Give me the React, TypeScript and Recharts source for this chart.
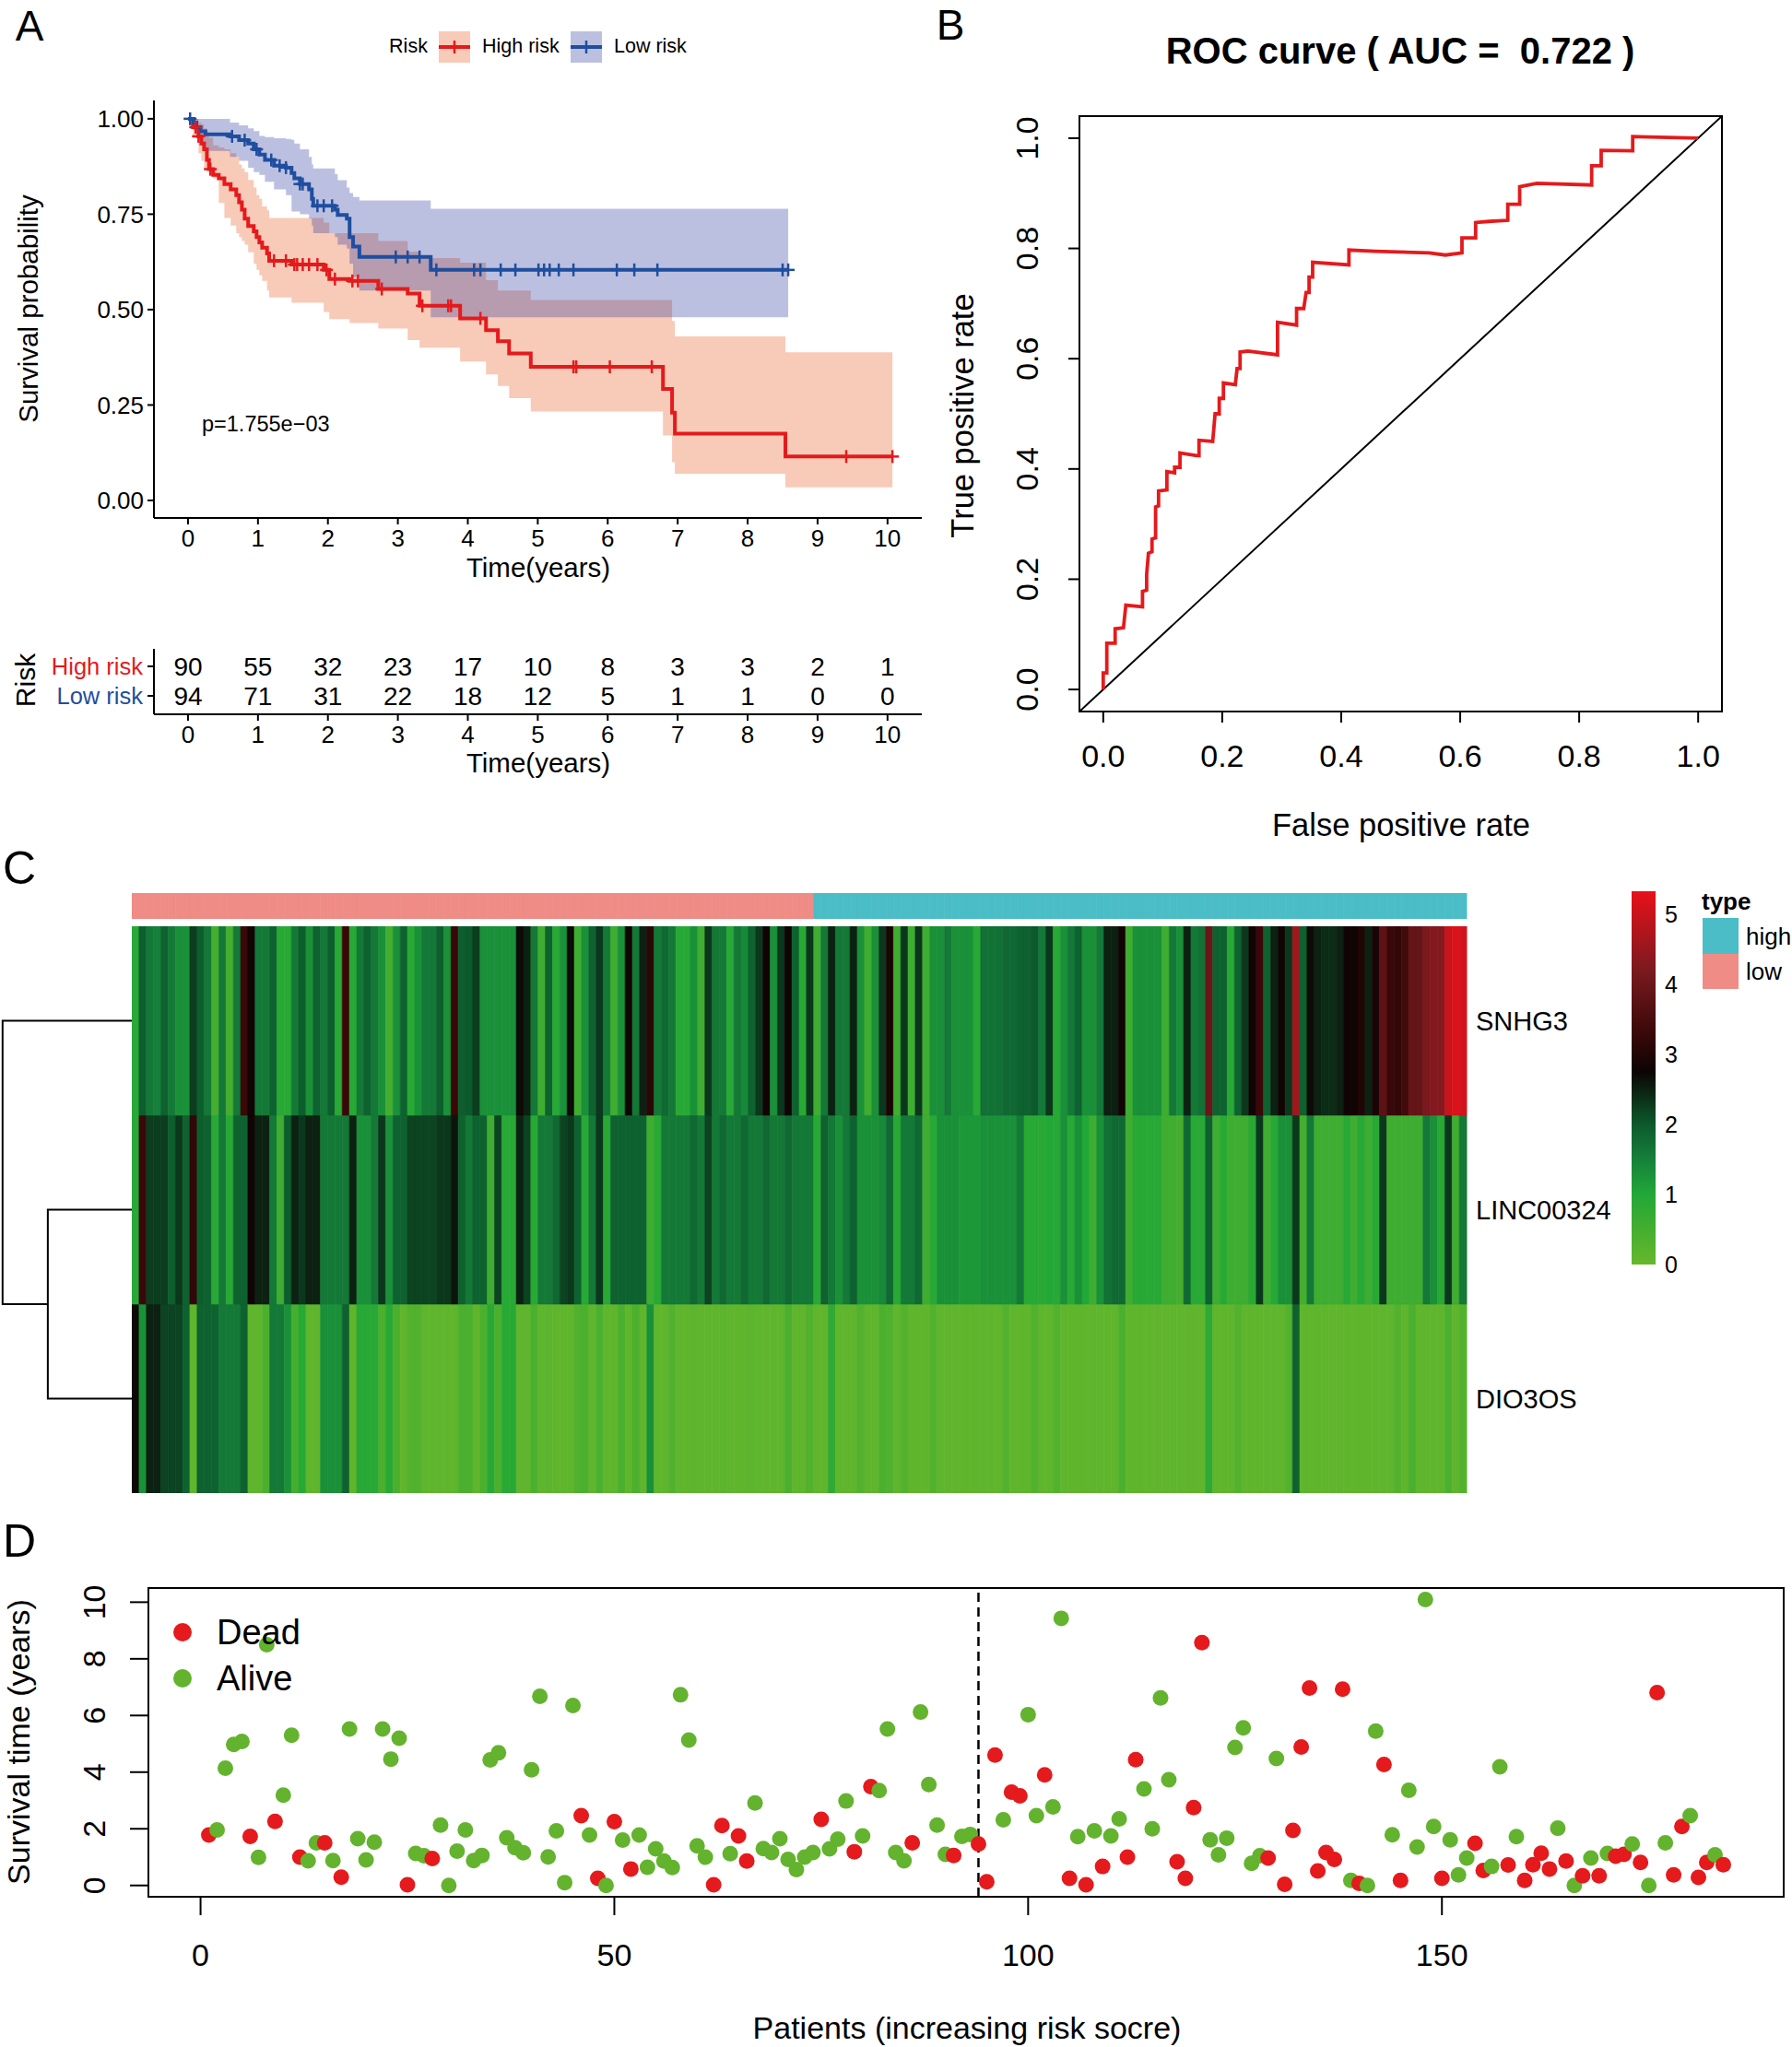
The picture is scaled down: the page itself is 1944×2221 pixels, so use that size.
import React from "react";
import {
  ComposedChart,
  ScatterChart,
  BarChart,
  Line,
  Area,
  Scatter,
  Bar,
  Cell,
  XAxis,
  YAxis,
  ReferenceArea,
  ReferenceLine,
} from "recharts";

const FONT = "'Liberation Sans', Arial, Helvetica, sans-serif";
const RED = "#e41a1c";
const BLUE = "#1f4e9f";
const GREEN = "#63b32e";
const PINK = "#ef8c86";
const CYAN = "#4bbdc6";

// ---------- A: Kaplan-Meier ----------
const YEARS = [0, 1, 2, 3, 4, 5, 6, 7, 8, 9, 10];
const SURV_TICKS = [0, 0.25, 0.5, 0.75, 1];

const HIGH_T = [0, 0.07, 0.15, 0.19, 0.23, 0.27, 0.3, 0.36, 0.44, 0.52, 0.61, 0.69, 0.73, 0.77, 0.81, 0.86, 0.94, 0.98, 1.02, 1.06, 1.13, 1.16, 1.48, 1.94, 2.02, 2.31, 2.72, 3.14, 3.31, 3.89, 4.26, 4.43, 4.59, 4.9, 6.79, 6.92, 6.96, 8.54, 10.07];
const HIGH_S = [1.0, 0.978, 0.954, 0.935, 0.92, 0.892, 0.868, 0.853, 0.844, 0.829, 0.815, 0.8, 0.781, 0.762, 0.738, 0.719, 0.705, 0.69, 0.676, 0.662, 0.647, 0.628, 0.618, 0.604, 0.58, 0.575, 0.554, 0.542, 0.51, 0.477, 0.446, 0.417, 0.385, 0.35, 0.292, 0.23, 0.175, 0.115, 0.115];
const HIGH_LO = [1.0, 0.95, 0.91, 0.89, 0.87, 0.87, 0.85, 0.844, 0.78, 0.74, 0.72, 0.7, 0.69, 0.68, 0.67, 0.65, 0.62, 0.604, 0.59, 0.575, 0.55, 0.532, 0.518, 0.494, 0.475, 0.465, 0.45, 0.42, 0.4, 0.364, 0.33, 0.3, 0.268, 0.233, 0.17, 0.1, 0.07, 0.034, 0.034];
const HIGH_HI = [1.0, 1.0, 0.99, 0.985, 0.975, 0.96, 0.95, 0.93, 0.925, 0.92, 0.91, 0.9, 0.88, 0.87, 0.86, 0.84, 0.82, 0.8, 0.79, 0.77, 0.76, 0.74, 0.74, 0.728, 0.7, 0.7, 0.68, 0.652, 0.635, 0.623, 0.577, 0.55, 0.55, 0.525, 0.525, 0.47, 0.43, 0.388, 0.388];
const HIGH_CENS = [0.11, 0.15, 0.32, 1.23, 1.4, 1.52, 1.56, 1.64, 1.73, 1.85, 1.98, 2.1, 2.35, 2.43, 2.77, 3.35, 3.72, 3.76, 4.18, 5.51, 5.55, 6.03, 6.63, 9.41, 10.07];

const LOW_T = [0, 0.08, 0.12, 0.18, 0.25, 0.6, 0.73, 0.86, 0.94, 1.02, 1.1, 1.23, 1.4, 1.48, 1.52, 1.6, 1.73, 1.77, 1.79, 2.1, 2.14, 2.27, 2.31, 2.36, 2.45, 3.47, 8.58];
const LOW_S = [1.0, 0.99, 0.978, 0.967, 0.959, 0.954, 0.944, 0.935, 0.92, 0.906, 0.892, 0.877, 0.872, 0.858, 0.844, 0.829, 0.815, 0.79, 0.772, 0.762, 0.748, 0.738, 0.69, 0.665, 0.638, 0.604, 0.604];
const LOW_LO = [1.0, 0.97, 0.95, 0.93, 0.916, 0.9, 0.89, 0.872, 0.86, 0.853, 0.835, 0.815, 0.8, 0.757, 0.757, 0.75, 0.738, 0.72, 0.7, 0.69, 0.67, 0.66, 0.62, 0.585, 0.55, 0.48, 0.48];
const LOW_HI = [1.0, 1.0, 1.0, 1.0, 1.0, 0.99, 0.983, 0.975, 0.968, 0.955, 0.952, 0.949, 0.947, 0.945, 0.935, 0.92, 0.9, 0.88, 0.87, 0.855, 0.839, 0.82, 0.805, 0.795, 0.786, 0.764, 0.764];
const LOW_CENS = [0.03, 0.63, 0.81, 0.98, 1.19, 1.31, 1.4, 1.6, 1.64, 1.85, 1.94, 2.06, 2.97, 3.14, 3.31, 3.55, 4.09, 4.18, 4.47, 4.68, 5.01, 5.09, 5.17, 5.3, 5.51, 6.13, 6.38, 6.71, 8.5, 8.58];

const HIGH_AT_RISK = [90, 55, 32, 23, 17, 10, 8, 3, 3, 2, 1];
const LOW_AT_RISK = [94, 71, 31, 22, 18, 12, 5, 1, 1, 0, 0];

// ---------- B: ROC ----------
const RATE_TICKS = [0, 0.2, 0.4, 0.6, 0.8, 1];
const ROC_FPR = [0, 0, 0.006, 0.006, 0.02, 0.02, 0.034, 0.038, 0.066, 0.066, 0.073, 0.073, 0.076, 0.082, 0.082, 0.088, 0.088, 0.093, 0.093, 0.107, 0.107, 0.12, 0.12, 0.129, 0.129, 0.157, 0.161, 0.161, 0.184, 0.188, 0.195, 0.195, 0.202, 0.202, 0.222, 0.225, 0.23, 0.23, 0.243, 0.293, 0.293, 0.325, 0.325, 0.337, 0.341, 0.346, 0.346, 0.352, 0.352, 0.413, 0.413, 0.457, 0.548, 0.575, 0.603, 0.603, 0.626, 0.626, 0.648, 0.68, 0.68, 0.7, 0.7, 0.729, 0.821, 0.821, 0.837, 0.837, 0.89, 0.89, 1.0];
const ROC_TPR = [0, 0.03, 0.03, 0.084, 0.084, 0.11, 0.112, 0.153, 0.15, 0.178, 0.18, 0.209, 0.247, 0.25, 0.273, 0.275, 0.331, 0.333, 0.36, 0.362, 0.395, 0.393, 0.403, 0.403, 0.429, 0.424, 0.424, 0.452, 0.45, 0.5, 0.5, 0.528, 0.528, 0.556, 0.553, 0.582, 0.582, 0.612, 0.614, 0.607, 0.666, 0.661, 0.691, 0.691, 0.72, 0.72, 0.748, 0.748, 0.775, 0.77, 0.797, 0.795, 0.792, 0.788, 0.792, 0.819, 0.819, 0.847, 0.849, 0.851, 0.88, 0.88, 0.912, 0.918, 0.915, 0.95, 0.95, 0.978, 0.977, 1.003, 1.0];
const CHANCE = [-0.04, 1.04];

// ---------- C: heatmap ----------
const GENES_BOTTOM_UP = ["DIO3OS", "LINC00324", "SNHG3"];
const LOW_COUNT = 94;
const SNHG3 = [
  0.9, 1.95, 1.6, 1.5, 1.9, 1.6, 1.3, 1.3, 2.25, 1.95,
  1.6, 0.5, 1.6, 0.5, 1.6, 3.3, 2.8, 1.6, 1.6, 1.9,
  0.9, 0.9, 1.6, 1.95, 1.3, 1.9, 1.6, 1.95, 0.9, 3.3,
  0.9, 1.6, 1.9, 1.6, 1.3, 0.5, 1.3, 1.9, 0.9, 1.3,
  1.6, 1.6, 1.95, 1.3, 3.3, 1.95, 2.0, 2.25, 1.3, 1.3,
  1.3, 1.3, 1.3, 2.7, 2.5, 1.6, 0.6, 1.9, 0.9, 1.3,
  2.7, 0.6, 1.3, 1.9, 2.3, 1.6, 0.6, 1.3, 2.8, 1.6,
  2.5, 3.1, 1.6, 1.8, 1.6, 0.9, 0.9, 1.3, 0.6, 2.3,
  1.6, 1.6, 0.9, 1.6, 1.4, 1.9, 2.3, 2.8, 1.3, 2.3,
  2.8, 1.9, 0.9, 2.3, 0.6, 1.6, 2.5, 1.6, 1.6, 2.5,
  1.3, 0.6, 1.3, 2.3, 2.9, 0.6, 2.3, 0.6, 2.3, 0.6,
  1.3, 1.3, 1.6, 1.3, 1.3, 1.3, 0.9, 1.7, 1.7, 1.7,
  1.8, 1.8, 1.9, 1.9, 2.0, 1.6, 2.3, 0.9, 1.3, 1.6,
  1.9, 1.3, 1.3, 1.6, 2.5, 2.5, 2.8, 0.6, 1.3, 1.3,
  1.3, 1.3, 0.6, 1.6, 1.3, 2.5, 1.6, 1.7, 4.0, 1.9,
  1.9, 0.9, 1.9, 2.3, 2.8, 3.3, 1.9, 2.5, 2.8, 2.3,
  4.6, 1.9, 2.7, 2.5, 2.4, 2.4, 2.5, 2.8, 2.8, 3.0,
  2.5, 2.9, 3.8, 3.3, 3.2, 3.4, 3.9, 3.9, 4.2, 4.3,
  4.3, 5.0, 5.2, 5.1,
];
const LINC00324 = [
  0.9, 3.3, 2.25, 2.25, 2.25, 1.95, 2.3, 1.9, 3.2, 1.95,
  1.9, 0.9, 1.6, 0.9, 1.9, 1.9, 2.8, 2.5, 2.5, 1.6,
  0.6, 1.95, 2.5, 2.3, 2.5, 2.5, 1.6, 1.6, 1.6, 1.6,
  2.5, 1.3, 1.3, 1.6, 2.3, 1.3, 1.9, 1.9, 2.2, 2.2,
  2.2, 2.2, 2.3, 2.3, 2.6, 1.9, 1.6, 1.9, 1.9, 0.6,
  2.2, 0.9, 0.9, 2.5, 2.2, 0.9, 1.6, 1.6, 1.8, 2.2,
  2.3, 1.9, 0.9, 1.6, 2.3, 0.9, 1.9, 1.9, 1.9, 1.9,
  1.9, 0.6, 0.9, 1.6, 1.6, 1.6, 1.6, 1.8, 1.6, 2.2,
  1.6, 1.8, 1.6, 1.6, 1.8, 1.6, 1.6, 1.8, 1.6, 1.6,
  1.8, 1.6, 1.6, 1.6, 0.9, 1.9, 1.6, 1.3, 1.6, 1.9,
  1.3, 1.3, 1.3, 1.4, 1.8, 0.9, 1.6, 1.6, 1.8, 0.6,
  0.9, 1.3, 1.3, 1.3, 1.2, 1.2, 1.2, 1.3, 1.3, 1.3,
  1.3, 1.3, 1.6, 0.9, 0.9, 0.9, 1.0, 0.9, 1.3, 0.9,
  1.3, 1.0, 0.6, 1.3, 1.7, 1.8, 1.8, 0.6, 0.9, 0.9,
  0.9, 0.9, 0.6, 0.6, 0.5, 1.8, 0.9, 0.9, 1.9, 0.6,
  0.9, 0.6, 0.6, 0.6, 0.9, 2.3, 0.6, 0.9, 1.3, 1.3,
  2.3, 0.5, 1.6, 0.6, 0.6, 0.6, 0.6, 0.9, 0.6, 0.9,
  0.6, 0.9, 2.3, 0.6, 0.6, 0.6, 0.6, 0.6, 1.6, 1.3,
  0.9, 2.3, 0.6, 1.6,
];
const DIO3OS = [
  2.7, 1.3, 2.5, 2.5, 2.2, 2.2, 2.2, 1.9, 0.1, 1.9,
  1.9, 1.9, 1.6, 1.6, 1.6, 1.9, 0.1, 0.1, 0.4, 1.6,
  1.6, 1.3, 0.5, 0.9, 0.1, 0.1, 1.3, 1.3, 1.3, 1.9,
  0.1, 0.9, 0.9, 0.9, 0.4, 0.9, 0.4, 0.1, 0.3, 0.3,
  0.1, 0.1, 0.1, 0.1, 0.1, 0.4, 0.4, 0.1, 0.4, 0.9,
  0.4, 0.9, 0.9, 0.1, 0.1, 0.4, 0.1, 0.15, 0.1, 0.1,
  0.1, 0.35, 0.4, 0.1, 0.4, 0.1, 0.1, 0.4, 0.1, 0.4,
  0.1, 1.3, 0.1, 0.1, 0.3, 0.1, 0.1, 0.15, 0.1, 0.1,
  0.1, 0.15, 0.1, 0.1, 0.1, 0.15, 0.1, 0.1, 0.1, 0.1,
  0.4, 0.1, 0.1, 0.3, 0.1, 0.1, 0.8, 0.1, 0.1, 0.1,
  0.3, 0.1, 0.1, 0.4, 0.35, 0.1, 0.3, 0.1, 0.1, 0.1,
  0.3, 0.1, 0.1, 0.1, 0.1, 0.1, 0.1, 0.1, 0.1, 0.1,
  0.3, 0.1, 0.1, 0.1, 0.3, 0.1, 0.1, 0.3, 0.1, 0.1,
  0.1, 0.1, 0.1, 0.1, 0.1, 0.1, 0.4, 0.1, 0.1, 0.1,
  0.1, 0.1, 0.1, 0.1, 0.1, 0.1, 0.1, 0.1, 0.8, 0.1,
  0.1, 0.1, 0.3, 0.1, 0.1, 0.1, 0.1, 0.1, 0.1, 0.3,
  1.9, 0.1, 0.1, 0.1, 0.1, 0.1, 0.1, 0.1, 0.1, 0.1,
  0.1, 0.1, 0.1, 0.1, 0.3, 0.1, 0.4, 0.1, 0.1, 0.1,
  0.1, 0.4, 0.1, 0.3,
];
const LEGEND_MAX = 5.33;
const LEGEND_TICKS = [0, 1, 2, 3, 4, 5];
const COLOR_STOPS: [number, string][] = [
  [0, "#66b82d"],
  [0.5, "#45ae2f"],
  [1.0, "#21a837"],
  [1.5, "#16803a"],
  [2.0, "#0c5a2c"],
  [2.4, "#0b2c16"],
  [2.75, "#0d0404"],
  [3.3, "#3a0808"],
  [4.2, "#7a1a1f"],
  [5.33, "#e8111a"],
];
// dendrogram merge heights: (LINC00324, DIO3OS) then root with SNHG3
const DENDRO_MERGE = [0.65, 1.0];

// ---------- D: survival status ----------
const SURV_TIME = [
  1.78, 1.96, 4.14, 4.98, 5.08, 1.73, 0.99, 8.5, 2.26, 3.19,
  5.3, 1.0, 0.87, 1.5, 1.5, 0.88, 0.29, 5.52, 1.65, 0.9,
  1.53, 5.52, 4.46, 5.2, 0.02, 1.13, 1.05, 0.95, 2.13, 0.0,
  1.21, 1.96, 0.88, 1.06, 4.43, 4.68, 1.68, 1.33, 1.15, 4.08,
  6.68, 1.01, 1.93, 0.1, 6.35, 2.46, 1.78, 0.25, 0.0, 2.25,
  1.6, 0.58, 1.78, 0.64, 1.29, 0.86, 0.63, 6.73, 5.13, 1.4,
  1.0, 0.02, 2.11, 1.12, 1.75, 0.86, 2.91, 1.3, 1.16, 1.65,
  0.92, 0.56, 1.0, 1.16, 2.33, 1.29, 1.63, 2.98, 1.19, 1.75,
  3.49, 3.35, 5.52, 1.16, 0.87, 1.5, 6.12, 3.56, 2.13, 1.1,
  1.06, 1.73, 1.8, 1.46, 0.13, 4.6, 2.32, 3.29, 3.16, 6.03,
  2.46, 3.9, 2.77, 9.43, 0.25, 1.72, 0.02, 1.93, 0.67, 1.75,
  2.35, 1.0, 4.44, 3.41, 2.0, 6.62, 3.73, 0.84, 0.25, 2.75,
  8.57, 1.61, 1.08, 1.67, 4.87, 5.56, 0.78, 1.05, 0.97, 4.48,
  0.04, 1.94, 4.89, 6.97, 0.51, 1.16, 0.92, 6.93, 0.18, 0.07,
  0.0, 5.45, 4.27, 1.79, 0.18, 3.36, 1.36, 10.09, 2.08, 0.25,
  1.61, 0.37, 0.97, 1.49, 0.53, 0.67, 4.19, 0.72, 1.72, 0.18,
  0.73, 1.14, 0.58, 2.02, 0.86, 0.0, 0.34, 0.97, 0.34, 1.13,
  1.03, 1.1, 1.46, 0.81, 0.0, 6.81, 1.5, 0.37, 2.08, 2.46,
  0.28, 0.81, 1.08, 0.73,
];
const STATUS = [
  1, 0, 0, 0, 0, 1, 0, 0, 1, 0,
  0, 1, 0, 0, 1, 0, 1, 0, 0, 0,
  0, 0, 0, 0, 1, 0, 0, 1, 0, 0,
  0, 0, 0, 0, 0, 0, 0, 0, 0, 0,
  0, 0, 0, 0, 0, 1, 0, 1, 0, 1,
  0, 1, 0, 0, 0, 0, 0, 0, 0, 0,
  0, 1, 1, 0, 1, 1, 0, 0, 0, 0,
  0, 0, 0, 0, 1, 0, 0, 0, 1, 0,
  1, 0, 0, 0, 0, 1, 0, 0, 0, 0,
  1, 0, 0, 1, 1, 1, 0, 1, 1, 0,
  0, 1, 0, 0, 1, 0, 1, 0, 1, 0,
  0, 1, 1, 0, 0, 0, 0, 1, 1, 1,
  1, 0, 0, 0, 0, 0, 0, 0, 1, 0,
  1, 1, 1, 1, 1, 1, 1, 1, 0, 1,
  0, 0, 1, 0, 1, 0, 0, 0, 0, 1,
  0, 0, 0, 1, 1, 0, 0, 1, 0, 1,
  1, 1, 1, 0, 1, 0, 1, 0, 1, 0,
  1, 1, 0, 1, 0, 1, 0, 1, 1, 0,
  1, 1, 0, 1,
];
const PATIENT_TICKS = [0, 50, 100, 150];
const TIME_TICKS = [0, 2, 4, 6, 8, 10];

// ---------- helpers ----------
function hexToRgb(h: string) {
  const n = parseInt(h.slice(1), 16);
  return [(n >> 16) & 255, (n >> 8) & 255, n & 255];
}
function heatColor(v: number) {
  for (let i = 1; i < COLOR_STOPS.length; i++) {
    const [v0, c0] = COLOR_STOPS[i - 1];
    const [v1, c1] = COLOR_STOPS[i];
    if (v <= v1) {
      const f = Math.max(0, Math.min(1, (v - v0) / (v1 - v0)));
      const a = hexToRgb(c0);
      const b = hexToRgb(c1);
      const c = a.map((x, k) => Math.round(x + (b[k] - x) * f));
      return `rgb(${c[0]},${c[1]},${c[2]})`;
    }
  }
  return COLOR_STOPS[COLOR_STOPS.length - 1][1];
}
function stepValue(ts: number[], ss: number[], t: number) {
  let s = ss[0];
  for (let i = 0; i < ts.length; i++) if (ts[i] <= t) s = ss[i];
  return s;
}

function Txt({ x, y, size, children, anchor = "middle", rotate = 0, weight = 400, color = "#000" }: any) {
  const tx = anchor === "start" ? "0%" : anchor === "end" ? "-100%" : "-50%";
  return (
    <div
      style={{
        position: "absolute",
        left: x,
        top: y,
        fontSize: size,
        fontWeight: weight,
        color,
        lineHeight: 1,
        whiteSpace: "nowrap",
        transform: `translate(${tx}, -50%)${rotate ? ` rotate(${rotate}deg)` : ""}`,
      }}
    >
      {children}
    </div>
  );
}

const rotTick = (size: number, fmt: (v: number) => string) => (p: any) => (
  <text
    x={p.x}
    y={p.y}
    transform={`rotate(-90 ${p.x} ${p.y})`}
    textAnchor="middle"
    dominantBaseline="central"
    fontSize={size}
    fill="#000"
  >
    {fmt(p.payload.value)}
  </text>
);

const censorShape = (color: string) => (p: any) => (
  <g>
    <line x1={p.cx} x2={p.cx} y1={p.cy - 7} y2={p.cy + 7} stroke={color} strokeWidth={2.5} />
    <line x1={p.cx - 7} x2={p.cx + 7} y1={p.cy} y2={p.cy} stroke={color} strokeWidth={2.5} />
  </g>
);

const blackLine = { stroke: "#000", strokeWidth: 2 };

// ---------- panels ----------
function PanelA() {
  const highLine = HIGH_T.map((t, i) => ({ t, s: HIGH_S[i] }));
  const lowLine = LOW_T.map((t, i) => ({ t, s: LOW_S[i] }));
  const highBand = HIGH_T.map((t, i) => ({ t, band: [HIGH_LO[i], HIGH_HI[i]] }));
  const lowBand = LOW_T.map((t, i) => ({ t, band: [LOW_LO[i], LOW_HI[i]] }));
  const highCens = HIGH_CENS.map((t) => ({ t, s: stepValue(HIGH_T, HIGH_S, t) }));
  const lowCens = LOW_CENS.map((t) => ({ t, s: stepValue(LOW_T, LOW_S, t) }));
  const highRisk = YEARS.map((t, i) => ({ t, row: 2, n: HIGH_AT_RISK[i] }));
  const lowRisk = YEARS.map((t, i) => ({ t, row: 1, n: LOW_AT_RISK[i] }));

  const countShape = (p: any) => (
    <text x={p.cx} y={p.cy} dy="0.355em" textAnchor="middle" fontSize={28} fill="#000">
      {p.payload.n}
    </text>
  );
  const riskTick = (p: any) => {
    const high = p.payload.value === 2;
    return (
      <text x={p.x} y={p.y} dy="0.355em" textAnchor="end" fontSize={25.5} fill={high ? RED : BLUE}>
        {high ? "High risk" : "Low risk"}
      </text>
    );
  };

  return (
    <>
      <Txt x={32} y={28} size={46}>A</Txt>
      <Txt x={443} y={51} size={21.5}>Risk</Txt>
      <svg style={{ position: "absolute", left: 476, top: 34 }} width={34} height={34}>
        <rect x={0} y={0} width={34} height={34} fill="#f8cab8" />
        <line x1={0} x2={34} y1={17} y2={17} stroke={RED} strokeWidth={4} />
        <line x1={17} x2={17} y1={10} y2={24} stroke={RED} strokeWidth={2.5} />
      </svg>
      <Txt x={523} y={51} size={21.5} anchor="start">High risk</Txt>
      <svg style={{ position: "absolute", left: 619, top: 34 }} width={34} height={34}>
        <rect x={0} y={0} width={34} height={34} fill="#bcc0e0" />
        <line x1={0} x2={34} y1={17} y2={17} stroke={BLUE} strokeWidth={4} />
        <line x1={17} x2={17} y1={10} y2={24} stroke={BLUE} strokeWidth={2.5} />
      </svg>
      <Txt x={666} y={51} size={21.5} anchor="start">Low risk</Txt>

      <div style={{ position: "absolute", left: 0, top: 100 }}>
        <ComposedChart width={1010} height={560} margin={{ top: 9, right: 10, bottom: 0, left: 0 }}>
          <XAxis
            type="number"
            dataKey="t"
            domain={[-0.487, 10.49]}
            ticks={YEARS}
            interval={0}
            allowDataOverflow
            height={98}
            tickSize={7}
            tickMargin={6}
            axisLine={blackLine}
            tickLine={blackLine}
            tick={{ fontSize: 26, fill: "#000" }}
          />
          <YAxis
            type="number"
            domain={[-0.046, 1.048]}
            ticks={SURV_TICKS}
            interval={0}
            allowDataOverflow
            tickFormatter={(v: number) => v.toFixed(2)}
            width={167}
            tickSize={7}
            tickMargin={4}
            axisLine={blackLine}
            tickLine={blackLine}
            tick={{ fontSize: 26, fill: "#000" }}
          />
          <Area data={highBand} dataKey="band" type="stepAfter" stroke="none" fill="#ef8a62" fillOpacity={0.45} isAnimationActive={false} />
          <Area data={lowBand} dataKey="band" type="stepAfter" stroke="none" fill="#202d98" fillOpacity={0.3} isAnimationActive={false} />
          <Line data={highLine} dataKey="s" type="stepAfter" stroke={RED} strokeWidth={4} dot={false} activeDot={false} isAnimationActive={false} />
          <Line data={lowLine} dataKey="s" type="stepAfter" stroke={BLUE} strokeWidth={4} dot={false} activeDot={false} isAnimationActive={false} />
          <Scatter data={highCens} dataKey="s" shape={censorShape(RED)} isAnimationActive={false} />
          <Scatter data={lowCens} dataKey="s" shape={censorShape(BLUE)} isAnimationActive={false} />
        </ComposedChart>
      </div>
      <Txt x={31} y={335} size={29.5} rotate={-90}>Survival probability</Txt>
      <Txt x={584} y={616} size={29.5}>Time(years)</Txt>
      <Txt x={219} y={461} size={23.5} anchor="start">p=1.755e−03</Txt>

      <div style={{ position: "absolute", left: 0, top: 695 }}>
        <ScatterChart width={1010} height={150} margin={{ top: 9, right: 10, bottom: 0, left: 0 }}>
          <XAxis
            type="number"
            dataKey="t"
            domain={[-0.487, 10.49]}
            ticks={YEARS}
            interval={0}
            allowDataOverflow
            height={70}
            tickSize={7}
            tickMargin={6}
            axisLine={blackLine}
            tickLine={blackLine}
            tick={{ fontSize: 26, fill: "#000" }}
          />
          <YAxis
            type="number"
            dataKey="row"
            domain={[0.375, 2.594]}
            ticks={[1, 2]}
            interval={0}
            allowDataOverflow
            width={167}
            tickSize={7}
            tickMargin={5}
            axisLine={blackLine}
            tickLine={blackLine}
            tick={riskTick}
          />
          <Scatter data={highRisk} shape={countShape} isAnimationActive={false} />
          <Scatter data={lowRisk} shape={countShape} isAnimationActive={false} />
        </ScatterChart>
      </div>
      <Txt x={28} y={738} size={30} rotate={-90}>Risk</Txt>
      <Txt x={584} y={828} size={29.5}>Time(years)</Txt>
    </>
  );
}

function PanelB() {
  const roc = ROC_FPR.map((f, i) => ({ fpr: f, tpr: ROC_TPR[i] }));
  const chance = CHANCE.map((v) => ({ fpr: v, tpr: v }));
  return (
    <>
      <Txt x={1031} y={27} size={46}>B</Txt>
      <Txt x={1519} y={55} size={40} weight={700}>ROC curve ( AUC =&nbsp; 0.722 )</Txt>
      <div style={{ position: "absolute", left: 1020, top: 100 }}>
        <ComposedChart width={880} height={800} margin={{ top: 26, right: 32, bottom: 0, left: 0 }}>
          <XAxis
            type="number"
            dataKey="fpr"
            domain={[-0.04, 1.04]}
            ticks={RATE_TICKS}
            interval={0}
            allowDataOverflow
            tickFormatter={(v: number) => v.toFixed(1)}
            height={128}
            tickSize={12}
            tickMargin={24}
            axisLine={false}
            tickLine={blackLine}
            tick={{ fontSize: 34, fill: "#000" }}
          />
          <YAxis
            type="number"
            domain={[-0.04, 1.04]}
            ticks={RATE_TICKS}
            interval={0}
            allowDataOverflow
            width={151}
            tickSize={12}
            tickMargin={45}
            axisLine={false}
            tickLine={blackLine}
            tick={rotTick(34, (v) => v.toFixed(1))}
          />
          <ReferenceArea x1={-0.04} x2={1.04} y1={-0.04} y2={1.04} fill="none" stroke="#000" strokeWidth={2} ifOverflow="visible" />
          <Line data={chance} dataKey="tpr" type="linear" stroke="#000" strokeWidth={2} dot={false} activeDot={false} isAnimationActive={false} />
          <Line data={roc} dataKey="tpr" type="linear" stroke={RED} strokeWidth={3.8} dot={false} activeDot={false} isAnimationActive={false} />
        </ComposedChart>
      </div>
      <Txt x={1520} y={895} size={34.5}>False positive rate</Txt>
      <Txt x={1044} y={451} size={34.5} rotate={-90}>True positive rate</Txt>
    </>
  );
}

function PanelC() {
  const rows = SNHG3.map((_, i) => ({
    patient: i + 1,
    type: i < LOW_COUNT ? "low" : "high",
    annot: 1,
    DIO3OS: 1,
    LINC00324: 1,
    SNHG3: 1,
  }));
  const values: Record<string, number[]> = { DIO3OS, LINC00324, SNHG3 };
  const m0 = DENDRO_MERGE[0];
  const m1 = DENDRO_MERGE[1];
  const dendro = [
    [
      { h: 0, pos: 1.5 },
      { h: m0, pos: 1.5 },
      { h: m0, pos: 0.5 },
      { h: 0, pos: 0.5 },
    ],
    [
      { h: 0, pos: 2.5 },
      { h: m1, pos: 2.5 },
      { h: m1, pos: 1.0 },
      { h: m0, pos: 1.0 },
    ],
  ];
  return (
    <>
      <Txt x={21} y={942} size={50}>C</Txt>
      <div style={{ position: "absolute", left: 143, top: 969 }}>
        <BarChart width={1568} height={28} data={rows} margin={{ top: 0, right: 0, bottom: 0, left: 0 }} barCategoryGap={0} barGap={0}>
          <XAxis dataKey="patient" hide />
          <YAxis
            orientation="right"
            type="number"
            domain={[0, 1]}
            ticks={[0.5]}
            tickFormatter={() => "type"}
            width={120}
            tickSize={0}
            tickMargin={10}
            axisLine={false}
            tickLine={false}
            tick={{ fontSize: 26, fontWeight: "bold", fill: "#000" }}
          />
          <Bar dataKey="annot" isAnimationActive={false}>
            {rows.map((r, i) => {
              const c = r.type === "low" ? PINK : CYAN;
              return <Cell key={i} fill={c} stroke={c} strokeWidth={0.6} />;
            })}
          </Bar>
        </BarChart>
      </div>
      <div style={{ position: "absolute", left: 143, top: 1005 }}>
        <BarChart width={1628} height={615} data={rows} margin={{ top: 0, right: 0, bottom: 0, left: 0 }} barCategoryGap={0} barGap={0}>
          <XAxis dataKey="patient" hide />
          <YAxis
            orientation="right"
            type="number"
            domain={[0, 3]}
            ticks={[0.5, 1.5, 2.5]}
            tickFormatter={(v: number) => GENES_BOTTOM_UP[Math.floor(v)]}
            width={180}
            tickSize={0}
            tickMargin={10}
            axisLine={false}
            tickLine={false}
            tick={{ fontSize: 29, fill: "#000" }}
          />
          {GENES_BOTTOM_UP.map((g) => (
            <Bar key={g} dataKey={g} stackId="heat" isAnimationActive={false}>
              {values[g].map((v, i) => {
                const c = heatColor(v);
                return <Cell key={i} fill={c} stroke={c} strokeWidth={0.6} />;
              })}
            </Bar>
          ))}
        </BarChart>
      </div>
      <div style={{ position: "absolute", left: 0, top: 1005 }}>
        <ScatterChart width={143} height={615} margin={{ top: 0, right: 0, bottom: 0, left: 0 }}>
          <XAxis type="number" dataKey="h" domain={[0, 1.02]} reversed hide allowDataOverflow />
          <YAxis type="number" dataKey="pos" domain={[0, 3]} hide allowDataOverflow />
          {dendro.map((seg, i) => (
            <Scatter
              key={i}
              data={seg}
              line={{ stroke: "#000", strokeWidth: 2 }}
              lineType="joint"
              shape={() => <g />}
              isAnimationActive={false}
            />
          ))}
        </ScatterChart>
      </div>
      <div style={{ position: "absolute", left: 1770, top: 967 }}>
        <BarChart width={90} height={420} data={[{ k: "scale", v: LEGEND_MAX }]} margin={{ top: 0, right: 0, bottom: 15, left: 0 }} barCategoryGap={0}>
          <defs>
            <linearGradient id="heatScale" x1="0" y1="1" x2="0" y2="0">
              {COLOR_STOPS.map(([v, c]) => (
                <stop key={v} offset={v / LEGEND_MAX} stopColor={c} />
              ))}
            </linearGradient>
          </defs>
          <XAxis dataKey="k" hide />
          <YAxis
            orientation="right"
            type="number"
            domain={[0, LEGEND_MAX]}
            ticks={LEGEND_TICKS}
            interval={0}
            width={64}
            tickSize={0}
            tickMargin={10}
            axisLine={false}
            tickLine={false}
            tick={{ fontSize: 25, fill: "#000" }}
          />
          <Bar dataKey="v" fill="url(#heatScale)" isAnimationActive={false} />
        </BarChart>
      </div>
      <Txt x={1846} y={978} size={26} weight={700} anchor="start">type</Txt>
      <div style={{ position: "absolute", left: 1847, top: 996, width: 39, height: 39, background: CYAN }} />
      <div style={{ position: "absolute", left: 1847, top: 1035, width: 39, height: 38, background: PINK }} />
      <Txt x={1894} y={1016} size={26} anchor="start">high</Txt>
      <Txt x={1894} y={1054} size={26} anchor="start">low</Txt>
    </>
  );
}

function PanelD() {
  const pts = SURV_TIME.map((t, i) => ({ patient: i + 1, time: t, dead: STATUS[i] }));
  const dot = (p: any) => (
    <circle cx={p.cx} cy={p.cy} r={8.5} fill={p.payload.dead ? RED : GREEN} />
  );
  return (
    <>
      <Txt x={21} y={1672} size={50}>D</Txt>
      <div style={{ position: "absolute", left: 0, top: 1700 }}>
        <ScatterChart width={1944} height={521} margin={{ top: 23, right: 9, bottom: 0, left: 0 }}>
          <XAxis
            type="number"
            dataKey="patient"
            domain={[-6.3, 191.3]}
            ticks={PATIENT_TICKS}
            interval={0}
            allowDataOverflow
            height={163}
            tickSize={20}
            tickMargin={31}
            axisLine={false}
            tickLine={blackLine}
            tick={{ fontSize: 34, fill: "#000" }}
          />
          <YAxis
            type="number"
            dataKey="time"
            domain={[-0.4, 10.5]}
            ticks={TIME_TICKS}
            interval={0}
            allowDataOverflow
            width={161}
            tickSize={20}
            tickMargin={39}
            axisLine={false}
            tickLine={blackLine}
            tick={rotTick(34, (v) => String(v))}
          />
          <ReferenceArea x1={-6.3} x2={191.3} y1={-0.4} y2={10.5} fill="none" stroke="#000" strokeWidth={2} ifOverflow="visible" />
          <ReferenceLine x={LOW_COUNT} stroke="#000" strokeWidth={2.5} strokeDasharray="10 6" />
          <Scatter data={pts} shape={dot} isAnimationActive={false} />
        </ScatterChart>
      </div>
      <svg style={{ position: "absolute", left: 186, top: 1759 }} width={24} height={74}>
        <circle cx={12} cy={12} r={10} fill={RED} />
        <circle cx={12} cy={62} r={10} fill={GREEN} />
      </svg>
      <Txt x={235} y={1771} size={38} anchor="start">Dead</Txt>
      <Txt x={235} y={1821} size={38} anchor="start">Alive</Txt>
      <Txt x={20} y={1890} size={34} rotate={-90}>Survival time (years)</Txt>
      <Txt x={1049} y={2200} size={34}>Patients (increasing risk socre)</Txt>
    </>
  );
}

export default function App() {
  return (
    <div
      style={{
        position: "absolute",
        left: 0,
        top: 0,
        width: 1944,
        height: 2221,
        background: "#fff",
        fontFamily: FONT,
        color: "#000",
        overflow: "hidden",
      }}
    >
      <PanelA />
      <PanelB />
      <PanelC />
      <PanelD />
    </div>
  );
}
